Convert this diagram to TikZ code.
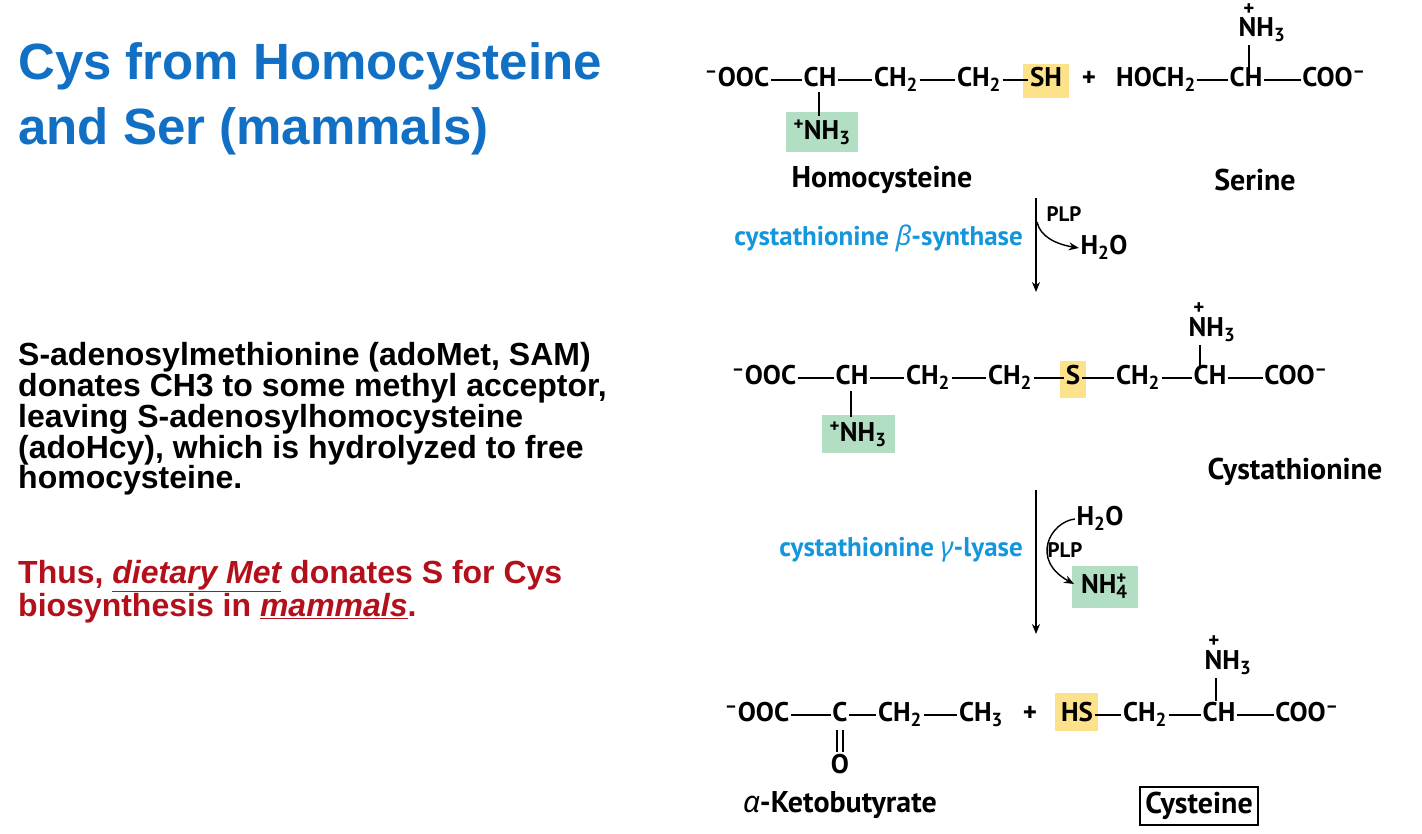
\documentclass[tikz,border=0pt]{standalone}
\usepackage{fontspec}
\usetikzlibrary{arrows.meta}
\setmainfont{Liberation Sans}
\newfontfamily\chem{PT Sans}
\newfontfamily\gr{Noto Sans}
\definecolor{ttl}{RGB}{18,112,196}
\definecolor{enz}{RGB}{20,150,220}
\definecolor{dred}{RGB}{180,16,28}
\definecolor{ygl}{RGB}{253,226,140}
\definecolor{grn}{RGB}{178,222,196}
\newcommand{\mn}{\textsuperscript{–}}
\begin{document}
\begin{tikzpicture}[x=1pt,y=-1pt,
  c/.style={font=\chem\bfseries\fontsize{27}{30}\selectfont,inner sep=1.5pt,text height=18pt,text depth=5pt},
  pl/.style={font=\chem\bfseries\fontsize{21}{21}\selectfont,inner sep=0pt},
  lbl/.style={font=\chem\bfseries\fontsize{30}{34}\selectfont,inner sep=1pt},
  en/.style={font=\chem\bfseries\fontsize{27}{30}\selectfont,text=enz,inner sep=1pt,anchor=east},
  bd/.style={line width=1.6pt},
  ar/.style={line width=1.4pt,-{Stealth[length=10pt,width=8pt]}},
  body/.style={font=\bfseries\fontsize{32}{29.5}\selectfont,anchor=north west,align=left,inner sep=0pt}]
\useasboundingbox (0,0) rectangle (1422,834);
\fill[white] (0,0) rectangle (1422,834);
% left text
\node[body,text=ttl,font=\bfseries\fontsize{51}{65}\selectfont] (title) at (18,42) {Cys from Homocysteine\\and Ser (mammals)};
\node[body] (desc) at (18,342) {S-adenosylmethionine (adoMet, SAM)\\donates CH3 to some methyl acceptor,\\leaving S-adenosylhomocysteine\\(adoHcy), which is hydrolyzed to free\\homocysteine.};
\node[body,text=dred] (thus) at (18,560) {Thus, \underline{\itshape dietary Met} donates S for Cys\\biosynthesis in \underline{\itshape mammals}.};
% ---- Row 1
\fill[ygl] (1023,64) rectangle (1069,98);
\fill[grn] (786,112) rectangle (858,152);
\node[c] (a1) at (737,80) {\mn OOC};
\node[c] (a2) at (820,80) {CH};
\node[c] (a3) at (896,80) {CH\textsubscript{2}};
\node[c] (a4) at (979,80) {CH\textsubscript{2}};
\node[c] (a5) at (1046,80) {SH};
\node[c] (p1) at (1089,80) {+};
\node[c] (s1) at (1156,80) {HOCH\textsubscript{2}};
\node[c] (s2) at (1246,80) {CH};
\node[c] (s3) at (1334,80) {COO\mn};
\node[c] (s4) at (1262,30) {NH\textsubscript{3}};
\node[pl] at (1249,10) {+};
\node[c] (a6) at (822,133) {\textsuperscript{+}NH\textsubscript{3}};
\draw[bd] (a1.east)--(a2.west) (a2.east)--(a3.west) (a3.east)--(a4.west) (a4.east)--(a5.west)
  (s1.east)--(s2.west) (s2.east)--(s3.west);
\draw[bd] (819,92)--(819,116);
\draw[bd] (1249,45)--(1249,68);
\node[lbl] (homo) at (882,180) {Homocysteine};
\node[lbl] (ser) at (1255,180) {Serine};
% arrow 1
\coordinate (t1) at (1036,198); \coordinate (b1) at (1036,292);
\draw[ar] (t1)--(b1);
\node[pl] (plp1) at (1064,214) {PLP};
\node[c] (w1) at (1104,248) {H\textsubscript{2}O};
\draw[ar] (1037,222) .. controls (1040,236) and (1055,244) .. (w1.west);
\node[en] (e1) at (1024,238) {cystathionine {\gr\itshape β}-synthase};
% ---- Row 2
\fill[ygl] (1060,361) rectangle (1086,398);
\fill[grn] (822,415) rectangle (895,453);
\node[c] (b1a) at (764,378) {\mn OOC};
\node[c] (b2) at (852,378) {CH};
\node[c] (b3) at (928,378) {CH\textsubscript{2}};
\node[c] (b4) at (1010,378) {CH\textsubscript{2}};
\node[c] (b5) at (1073,378) {S};
\node[c] (b6) at (1138,378) {CH\textsubscript{2}};
\node[c] (b7) at (1210,378) {CH};
\node[c] (b8) at (1296,378) {COO\mn};
\node[c] (b9) at (1212,330) {NH\textsubscript{3}};
\node[pl] at (1199,309) {+};
\node[c] (b10) at (858,435) {\textsuperscript{+}NH\textsubscript{3}};
\draw[bd] (b1a.east)--(b2.west) (b2.east)--(b3.west) (b3.east)--(b4.west) (b4.east)--(b5.west)
  (b5.east)--(b6.west) (b6.east)--(b7.west) (b7.east)--(b8.west);
\draw[bd] (851,391)--(851,417);
\draw[bd] (1200,345)--(1200,367);
\node[lbl] (cysta) at (1295,472) {Cystathionine};
% arrow 2
\coordinate (t2) at (1036,490); \coordinate (b2e) at (1036,634);
\draw[ar] (t2)--(b2e);
\node[c] (w2) at (1100,519) {H\textsubscript{2}O};
\node[pl] (plp2) at (1065,550) {PLP};
\fill[grn] (1072,566) rectangle (1138,608);
\node[c] (nh4) at (1104,587) {NH\rlap{\textsubscript{4}}\textsuperscript{+}};
\draw[ar] (w2.west) .. controls (1050,522) and (1030,560) .. (1074,584);
\node[en] (e2) at (1024,550) {cystathionine {\gr\itshape γ}-lyase};
% ---- Row 3
\fill[ygl] (1055,693) rectangle (1098,731);
\node[c] (c1) at (757,715) {\mn OOC};
\node[c] (c2) at (840,715) {C};
\node[c] (c3) at (900,715) {CH\textsubscript{2}};
\node[c] (c4) at (981,715) {CH\textsubscript{3}};
\node[c] (p3) at (1030,715) {+};
\node[c] (c5) at (1077,715) {HS};
\node[c] (c6) at (1145,715) {CH\textsubscript{2}};
\node[c] (c7) at (1219,715) {CH};
\node[c] (c8) at (1307,715) {COO\mn};
\node[c] (c9) at (1228,663) {NH\textsubscript{3}};
\node[pl] at (1214,642) {+};
\node[c] (c10) at (840,767) {O};
\draw[bd] (c1.east)--(c2.west) (c2.east)--(c3.west) (c3.east)--(c4.west)
  (c5.east)--(c6.west) (c6.east)--(c7.west) (c7.east)--(c8.west);
\draw[bd] (837,730)--(837,752) (843,730)--(843,752);
\draw[bd] (1216,678)--(1216,701);
\node[lbl] (keto) at (840,805) {{\gr\itshape α}-Ketobutyrate};
\node[lbl,draw,line width=1.8pt,inner sep=5pt] (cys) at (1199,806) {Cysteine};
\end{tikzpicture}
\end{document}
